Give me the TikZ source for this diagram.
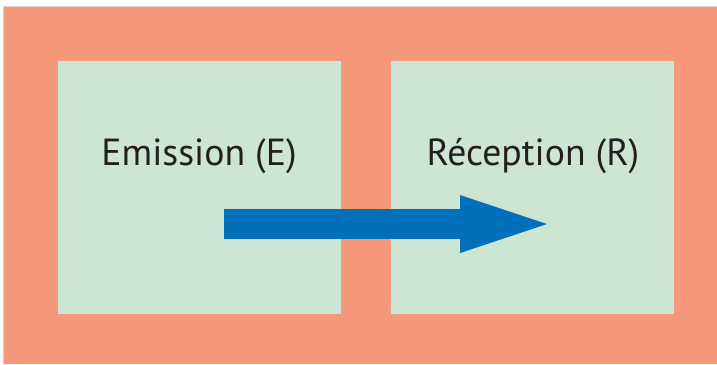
\documentclass[tikz,border=0pt]{standalone}
\usepackage{fontspec}
\setmainfont{PT Sans}
\usetikzlibrary{arrows.meta, positioning}
\definecolor{FrameOrange}{HTML}{F5977A}
\definecolor{BoxGreen}{HTML}{CDE6D4}
\definecolor{FlowBlue}{HTML}{0070BA}
\definecolor{InkGrey}{HTML}{231F20}
\definecolor{EdgeLilac}{HTML}{D9CFE2}

\tikzset{
    stage/.style={fill=BoxGreen, minimum width=212.25pt, minimum height=189.75pt, inner sep=0},
    stagelabel/.style={font=\fontsize{28.3}{30}\selectfont, text=InkGrey, anchor=base, inner sep=0},
}

\begin{document}
\begin{tikzpicture}[x=0.75pt, y=-0.75pt]
    \useasboundingbox (0,0) rectangle (717,364);
    % frame
    \fill[white] (0,0) rectangle (717,364);
    \fill[FrameOrange] (3.5,6.5) rectangle (717,364);
    \draw[EdgeLilac, line width=0.9pt] (3.5,364) -- (3.5,6.5) -- (717,6.5);

    % the two stages
    \node[stage] (emission) at (199.5,187.5) {};
    \node[stage] (reception) at (532.5,187.5) {};
    \node[stagelabel] (emissionlbl) at (199,165) {Emission (E)};
    \node[stagelabel] (receptionlbl) at (533,165) {Réception (R)};

    % signal path
    \coordinate (sendpt) at (224,224);
    \coordinate (recvpt) at (547,224);
    \draw[FlowBlue, line width=22.5pt, -{Triangle[length=65.25pt, width=43.5pt, line width=0pt]}] (sendpt) -- (recvpt);
\end{tikzpicture}
\end{document}
